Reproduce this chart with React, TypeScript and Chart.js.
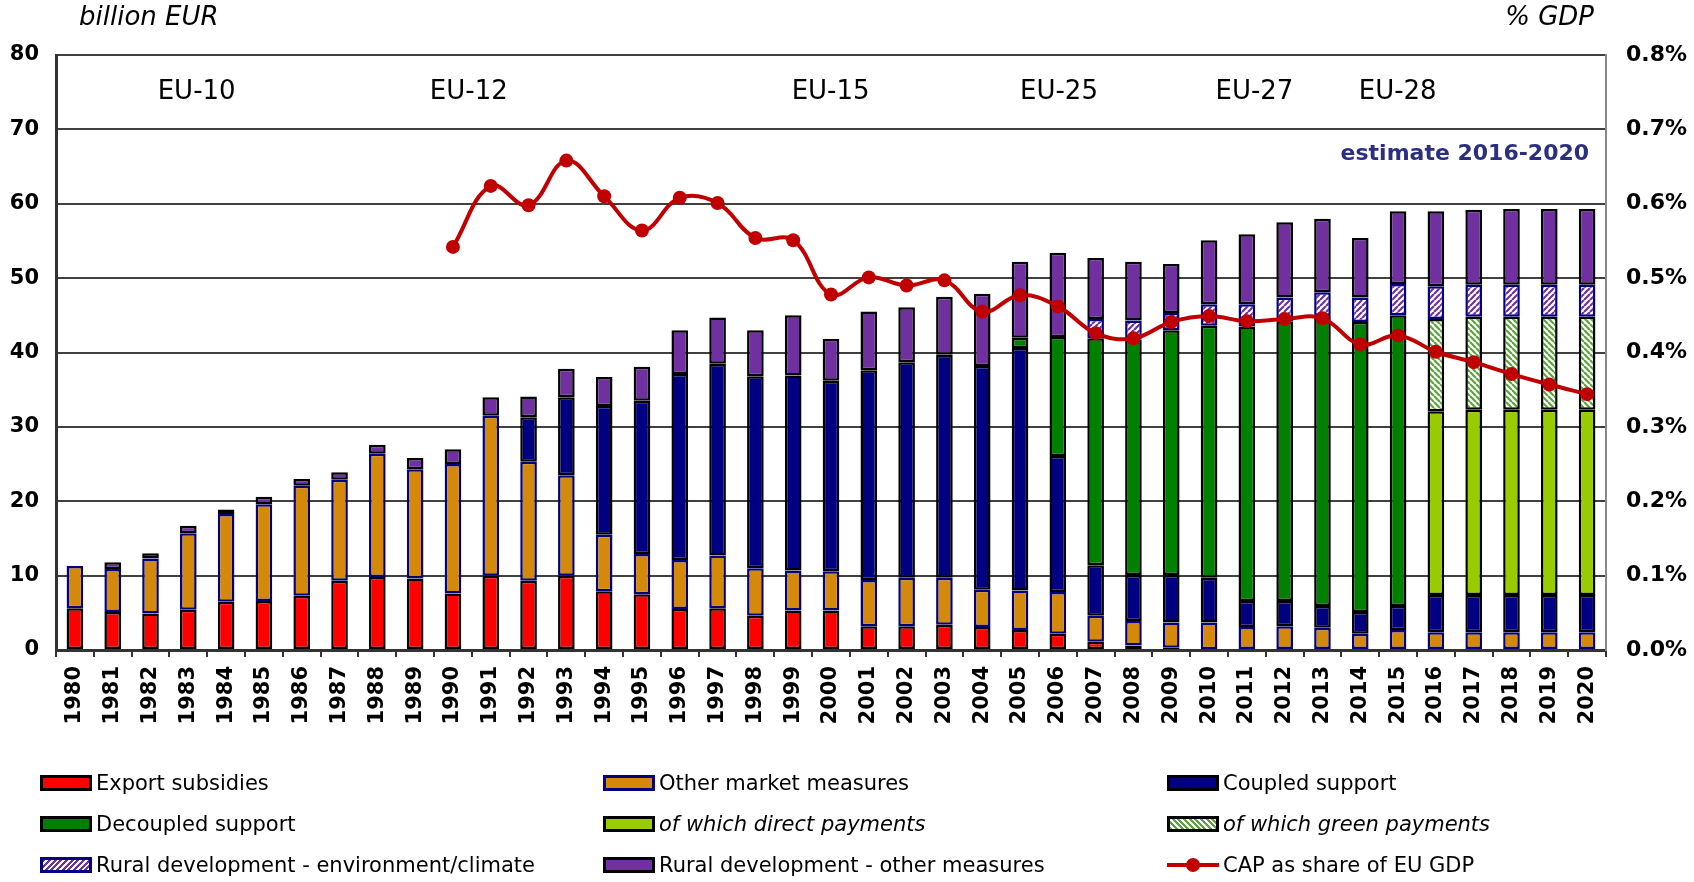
import React, { useEffect, useRef } from "react";
import { Chart, registerables } from "chart.js";

Chart.register(...registerables);

const years = [
  "1980", "1981", "1982", "1983", "1984", "1985", "1986", "1987", "1988", "1989",
  "1990", "1991", "1992", "1993", "1994", "1995", "1996", "1997", "1998", "1999",
  "2000", "2001", "2002", "2003", "2004", "2005", "2006", "2007", "2008", "2009",
  "2010", "2011", "2012", "2013", "2014", "2015", "2016", "2017", "2018", "2019", "2020",
];

// billion EUR
const exportSubsidies = [
  5.6, 5.1, 4.9, 5.4, 6.5, 6.6, 7.3, 9.3, 9.8, 9.6,
  7.6, 10.0, 9.3, 10.0, 7.9, 7.5, 5.5, 5.6, 4.6, 5.3,
  5.3, 3.2, 3.2, 3.4, 3.1, 2.7, 2.2, 1.1, 0.6, 0.3,
  0.1, null, null, null, null, null, null, null, null, null, null,
];
const otherMarketMeasures = [
  5.7, 5.8, 7.4, 10.3, 11.8, 13.0, 14.8, 13.6, 16.6, 14.7,
  17.4, 21.5, 16.0, 13.5, 7.6, 5.4, 6.6, 7.1, 6.4, 5.4,
  5.3, 6.2, 6.5, 6.3, 5.0, 5.3, 5.6, 3.5, 3.3, 3.4,
  3.6, 3.1, 3.2, 3.0, 2.2, 2.7, 2.4, 2.4, 2.4, 2.4, 2.4,
];
const coupledSupport = [
  null, null, null, null, null, null, null, null, null, null,
  null, null, 6.0, 10.5, 17.3, 20.6, 25.0, 25.8, 25.8, 26.2,
  25.6, 28.2, 29.0, 30.0, 30.1, 32.6, 18.3, 6.8, 6.2, 6.4,
  6.0, 3.5, 3.4, 2.9, 2.9, 3.2, 5.0, 5.0, 5.0, 5.0, 5.0,
];
const decoupledSupport = [
  null, null, null, null, null, null, null, null, null, null,
  null, null, null, null, null, null, null, null, null, null,
  null, null, null, null, null, 1.4, 16.0, 30.5, 31.6, 32.9,
  33.9, 36.9, 37.6, 39.0, 39.0, 39.1, null, null, null, null, null,
];
const directPayments = [
  null, null, null, null, null, null, null, null, null, null,
  null, null, null, null, null, null, null, null, null, null,
  null, null, null, null, null, null, null, null, null, null,
  null, null, null, null, null, null, 24.7, 24.9, 24.9, 24.9, 24.9,
];
const greenPayments = [
  null, null, null, null, null, null, null, null, null, null,
  null, null, null, null, null, null, null, null, null, null,
  null, null, null, null, null, null, null, null, null, null,
  null, null, null, null, null, null, 12.4, 12.5, 12.5, 12.5, 12.5,
];
const ruralEnvClimate = [
  null, null, null, null, null, null, null, null, null, null,
  null, null, null, null, null, null, null, null, null, null,
  null, null, null, null, null, null, null, 2.6, 2.6, 2.3,
  2.9, 3.0, 3.2, 3.2, 3.3, 4.2, 4.4, 4.3, 4.3, 4.3, 4.3,
];
const ruralOther = [
  null, 0.9, 0.7, 1.0, 0.6, 1.0, 0.9, 1.0, 1.2, 1.5,
  2.0, 2.5, 2.8, 3.8, 3.9, 4.6, 5.9, 6.2, 6.2, 8.1,
  5.6, 7.9, 7.4, 7.8, 9.7, 10.2, 11.3, 8.2, 7.9, 6.6,
  8.6, 9.4, 10.1, 9.9, 8.0, 9.8, 10.1, 10.1, 10.2, 10.2, 10.2,
];
// % of EU GDP
const capShareGdp = [
  null, null, null, null, null, null, null, null, null, null,
  0.542, 0.624, 0.598, 0.658, 0.610, 0.564, 0.608, 0.601, 0.554, 0.551,
  0.478, 0.501, 0.490, 0.497, 0.455, 0.477, 0.462, 0.426, 0.419, 0.441,
  0.449, 0.442, 0.445, 0.446, 0.411, 0.423, 0.401, 0.387, 0.371, 0.357, 0.344,
];

const enlargementLabels = ["EU-10", "EU-12", "EU-15", "EU-25", "EU-27", "EU-28"];
const enlargementPositions = [3.22, 10.42, 19.99, 26.03, 31.2, 34.99];
const enlargementLevel = 75;
const estimateLabel = "estimate 2016-2020";
const estimateLevel = 66.7;
const leftTitle = "billion EUR";
const rightTitle = "% GDP";

const FONT = '"DejaVu Sans", Verdana, sans-serif';

function makePattern(bg: string, stripe: string, dir: "up" | "down") {
  const size = 6;
  const c = document.createElement("canvas");
  c.width = size;
  c.height = size;
  const g = c.getContext("2d")!;
  g.fillStyle = bg;
  g.fillRect(0, 0, size, size);
  g.strokeStyle = stripe;
  g.lineWidth = 2.2;
  g.beginPath();
  for (const k of [-size, 0, size]) {
    if (dir === "up") {
      g.moveTo(k, size);
      g.lineTo(k + size, 0);
    } else {
      g.moveTo(k, 0);
      g.lineTo(k + size, size);
    }
  }
  g.stroke();
  return g.createPattern(c, "repeat")!;
}

const annotationPlugin = {
  id: "annotations",
  afterDraw(chart: any) {
    const { ctx, scales } = chart;
    const x = scales.x;
    const y = scales.y;
    ctx.save();
    ctx.fillStyle = "#000";
    ctx.textBaseline = "middle";
    ctx.textAlign = "center";
    ctx.font = `26px ${FONT}`;
    enlargementLabels.forEach((t, i) => {
      ctx.fillText(t, x.getPixelForValue(enlargementPositions[i]), y.getPixelForValue(enlargementLevel));
    });
    ctx.textAlign = "right";
    ctx.fillStyle = "#2B2F7F";
    ctx.font = `bold 22px ${FONT}`;
    ctx.fillText(estimateLabel, x.getPixelForValue(years.length - 1) + 2, y.getPixelForValue(estimateLevel));
    ctx.fillStyle = "#000";
    ctx.font = `italic 26px ${FONT}`;
    ctx.textAlign = "left";
    ctx.fillText(leftTitle, chart.chartArea.left + 23, 18);
    ctx.textAlign = "right";
    ctx.fillText(rightTitle, chart.chartArea.right - 12, 18);
    ctx.restore();
  },
};

const legendItems = [
  { label: "Export subsidies", italic: false, bg: "#FF0000", border: "#000" },
  { label: "Other market measures", italic: false, bg: "#D4890A", border: "#000080" },
  { label: "Coupled support", italic: false, bg: "#000080", border: "#000" },
  { label: "Decoupled support", italic: false, bg: "#008000", border: "#000" },
  { label: "of which direct payments", italic: true, bg: "#99CC00", border: "#000" },
  {
    label: "of which green payments",
    italic: true,
    bg: "repeating-linear-gradient(45deg, #5BA33B 0px, #5BA33B 2px, #ffffff 2px, #ffffff 4px)",
    border: "#000",
  },
  {
    label: "Rural development - environment/climate",
    italic: false,
    bg: "repeating-linear-gradient(135deg, #7030A0 0px, #7030A0 2px, #ffffff 2px, #ffffff 4px)",
    border: "#000080",
  },
  { label: "Rural development - other measures", italic: false, bg: "#7030A0", border: "#000" },
  { label: "CAP as share of EU GDP", italic: false, bg: "line", border: "#C00000" },
];

const legendCols = [40, 603, 1167];
const legendRows = [783, 824, 865];

export default function App() {
  const ref = useRef<HTMLCanvasElement>(null);

  useEffect(() => {
    document.body.style.margin = "0";
    const envPat = makePattern("#ffffff", "#7030A0", "up");
    const greenPat = makePattern("#ffffff", "#5BA33B", "down");
    const barBase = {
      type: "bar" as const,
      yAxisID: "y",
      borderWidth: 2.5,
      borderSkipped: false as const,
      order: 1,
    };
    const chart = new Chart(ref.current!, {
      type: "bar",
      data: {
        labels: years,
        datasets: [
          {
            type: "line",
            label: "CAP as share of EU GDP",
            data: capShareGdp as any,
            yAxisID: "y1",
            borderColor: "#C00000",
            backgroundColor: "#C00000",
            borderWidth: 4,
            pointRadius: 7,
            pointBorderWidth: 0,
            pointBackgroundColor: "#C00000",
            tension: 0.4,
            order: 0,
          } as any,
          { ...barBase, label: "Export subsidies", data: exportSubsidies as any, backgroundColor: "#FF0000", borderColor: "#000" },
          { ...barBase, label: "Other market measures", data: otherMarketMeasures as any, backgroundColor: "#D4890A", borderColor: "#000080" },
          { ...barBase, label: "Coupled support", data: coupledSupport as any, backgroundColor: "#000080", borderColor: "#000" },
          { ...barBase, label: "Decoupled support", data: decoupledSupport as any, backgroundColor: "#008000", borderColor: "#000" },
          { ...barBase, label: "of which direct payments", data: directPayments as any, backgroundColor: "#99CC00", borderColor: "#000" },
          { ...barBase, label: "of which green payments", data: greenPayments as any, backgroundColor: greenPat, borderColor: "#000" },
          { ...barBase, label: "Rural development - environment/climate", data: ruralEnvClimate as any, backgroundColor: envPat, borderColor: "#000080" },
          { ...barBase, label: "Rural development - other measures", data: ruralOther as any, backgroundColor: "#7030A0", borderColor: "#000" },
        ],
      },
      options: {
        responsive: false,
        animation: false,
        devicePixelRatio: 1,
        layout: { padding: { top: 55, bottom: 152, left: 0, right: 0 } },
        datasets: { bar: { barPercentage: 0.44, categoryPercentage: 1 } },
        plugins: { legend: { display: false }, tooltip: { enabled: false } },
        scales: {
          x: {
            stacked: true,
            grid: {
              display: true,
              drawOnChartArea: false,
              drawTicks: true,
              tickLength: 7,
              color: "#333",
              lineWidth: 2,
              offset: true,
            },
            border: { display: true, color: "#333", width: 3 },
            ticks: {
              minRotation: 90,
              maxRotation: 90,
              autoSkip: false,
              color: "#000",
              padding: 9,
              font: { family: FONT, size: 21, weight: "bold" },
            },
            afterFit(s: any) {
              s.height = 80;
            },
          },
          y: {
            stacked: true,
            min: 0,
            max: 80,
            ticks: {
              stepSize: 10,
              color: "#000",
              padding: 17,
              font: { family: FONT, size: 21, weight: "bold" },
            },
            grid: { color: "#404040", lineWidth: 2, drawTicks: false },
            border: { display: true, color: "#333", width: 3 },
            afterFit(s: any) {
              s.width = 56;
            },
          },
          y1: {
            position: "right",
            min: 0,
            max: 0.8,
            ticks: {
              stepSize: 0.1,
              color: "#000",
              padding: 20,
              font: { family: FONT, size: 22, weight: "bold" },
              callback: (v: any) => Number(v).toFixed(1) + "%",
            },
            grid: { drawOnChartArea: false, drawTicks: false },
            border: { display: true, color: "#888", width: 2 },
            afterFit(s: any) {
              s.width = 88;
            },
          },
        },
      } as any,
      plugins: [annotationPlugin],
    });
    return () => chart.destroy();
  }, []);

  return (
    <div style={{ position: "fixed", left: 0, top: 0, width: 1694, height: 882, background: "#fff", overflow: "hidden" }}>
      <canvas ref={ref} width={1694} height={882} style={{ position: "absolute", left: 0, top: 0, width: 1694, height: 882 }} />
      {legendItems.map((it, i) => {
        const col = i % 3;
        const row = Math.floor(i / 3);
        const left = legendCols[col];
        const cy = legendRows[row];
        return (
          <div key={it.label}>
            {it.bg === "line" ? (
              <div style={{ position: "absolute", left, top: cy - 8, width: 52, height: 16 }}>
                <div style={{ position: "absolute", left: 0, top: 6, width: 52, height: 4, background: it.border }} />
                <div style={{ position: "absolute", left: 19, top: 1, width: 14, height: 14, borderRadius: 7, background: it.border }} />
              </div>
            ) : (
              <div
                style={{
                  position: "absolute",
                  left,
                  top: cy - 8,
                  width: 52,
                  height: 16,
                  boxSizing: "border-box",
                  border: `3px solid ${it.border}`,
                  background: it.bg,
                }}
              />
            )}
            <div
              style={{
                position: "absolute",
                left: left + 56,
                top: cy - 14,
                height: 28,
                lineHeight: "28px",
                fontFamily: FONT,
                fontSize: 21,
                fontStyle: it.italic ? "italic" : "normal",
                color: "#000",
                whiteSpace: "nowrap",
              }}
            >
              {it.label}
            </div>
          </div>
        );
      })}
    </div>
  );
}
